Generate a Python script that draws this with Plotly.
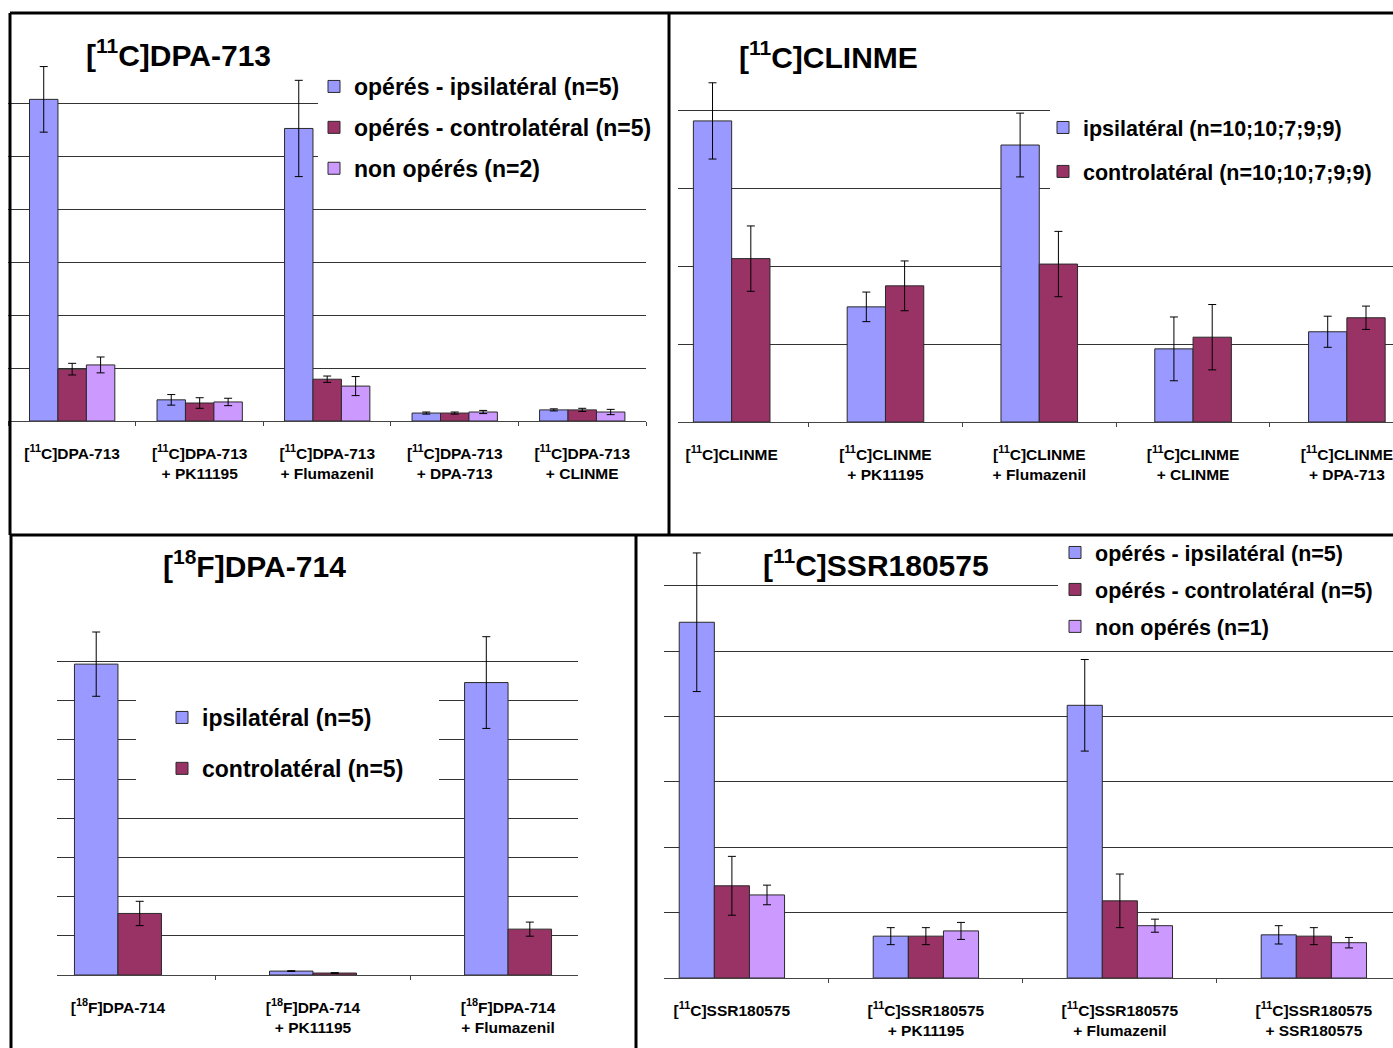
import plotly.graph_objects as go

W, H = 1393, 1048

# ---------------- DATA ----------------
# Panel 1 : [11C]DPA-713
p1_categories = ["[<sup>11</sup>C]DPA-713",
                 "[<sup>11</sup>C]DPA-713<br>+ PK11195",
                 "[<sup>11</sup>C]DPA-713<br>+ Flumazenil",
                 "[<sup>11</sup>C]DPA-713<br>+ DPA-713",
                 "[<sup>11</sup>C]DPA-713<br>+ CLINME"]
p1_series = ["opérés - ipsilatéral (n=5)", "opérés - controlatéral (n=5)", "non opérés (n=2)"]
p1_ipsi = [6.08, 0.40, 5.53, 0.15, 0.21]
p1_ipsi_err = [0.62, 0.10, 0.91, 0.02, 0.02]
p1_contro = [0.98, 0.34, 0.79, 0.15, 0.21]
p1_contro_err = [0.11, 0.10, 0.06, 0.02, 0.03]
p1_non = [1.06, 0.36, 0.66, 0.17, 0.17]
p1_non_err = [0.15, 0.07, 0.18, 0.03, 0.05]

# Panel 2 : [11C]CLINME
p2_categories = ["[<sup>11</sup>C]CLINME",
                 "[<sup>11</sup>C]CLINME<br>+ PK11195",
                 "[<sup>11</sup>C]CLINME<br>+ Flumazenil",
                 "[<sup>11</sup>C]CLINME<br>+ CLINME",
                 "[<sup>11</sup>C]CLINME<br>+ DPA-713"]
p2_series = ["ipsilatéral (n=10;10;7;9;9)", "controlatéral (n=10;10;7;9;9)"]
p2_ipsi = [3.87, 1.48, 3.56, 0.94, 1.16]
p2_ipsi_err = [0.49, 0.19, 0.41, 0.41, 0.20]
p2_contro = [2.10, 1.75, 2.03, 1.09, 1.34]
p2_contro_err = [0.42, 0.32, 0.42, 0.42, 0.15]

# Panel 3 : [18F]DPA-714
p3_categories = ["[<sup>18</sup>F]DPA-714",
                 "[<sup>18</sup>F]DPA-714<br>+ PK11195",
                 "[<sup>18</sup>F]DPA-714<br>+ Flumazenil"]
p3_series = ["ipsilatéral (n=5)", "controlatéral (n=5)"]
p3_ipsi = [7.93, 0.10, 7.46]
p3_ipsi_err = [0.82, 0.01, 1.17]
p3_contro = [1.57, 0.05, 1.17]
p3_contro_err = [0.31, 0.01, 0.18]

# Panel 4 : [11C]SSR180575
p4_categories = ["[<sup>11</sup>C]SSR180575",
                 "[<sup>11</sup>C]SSR180575<br>+ PK11195",
                 "[<sup>11</sup>C]SSR180575<br>+ Flumazenil",
                 "[<sup>11</sup>C]SSR180575<br>+ SSR180575"]
p4_series = ["opérés - ipsilatéral (n=5)", "opérés - controlatéral (n=5)", "non opérés (n=1)"]
p4_ipsi = [5.44, 0.64, 4.17, 0.66]
p4_ipsi_err = [1.06, 0.13, 0.70, 0.14]
p4_contro = [1.41, 0.64, 1.18, 0.64]
p4_contro_err = [0.45, 0.13, 0.41, 0.13]
p4_non = [1.27, 0.72, 0.80, 0.54]
p4_non_err = [0.15, 0.13, 0.10, 0.08]

titles = ["[<sup>11</sup>C]DPA-713", "[<sup>11</sup>C]CLINME",
          "[<sup>18</sup>F]DPA-714", "[<sup>11</sup>C]SSR180575"]

# ---------------- STYLE ----------------
C_IPSI = "#9999FF"
C_CONTRO = "#993366"
C_NON = "#CC99FF"
FONT = "Liberation Sans, Arial, sans-serif"


def px(x):
    return x / W


def py(y):
    return 1 - y / H


fig = go.Figure()


def add_panel(idx, cats, series, vals, errs, colors, width, legend_name):
    n = len(vals)
    ax = "" if idx == 1 else str(idx)
    for i in range(n):
        fig.add_trace(go.Bar(
            x=cats, y=vals[i], name=series[i],
            marker=dict(color=colors[i], line=dict(color="#2a2a2a", width=1)),
            error_y=dict(type="data", array=errs[i], color="black", thickness=1, width=4, visible=True),
            width=width, offset=-n * width / 2 + i * width,
            xaxis="x" + ax, yaxis="y" + ax,
            legend=legend_name, legendgroup=f"g{idx}_{i}",
            showlegend=True,
        ))


add_panel(1, p1_categories, p1_series, [p1_ipsi, p1_contro, p1_non],
          [p1_ipsi_err, p1_contro_err, p1_non_err], [C_IPSI, C_CONTRO, C_NON], 0.223, "legend")
add_panel(2, p2_categories, p2_series, [p2_ipsi, p2_contro],
          [p2_ipsi_err, p2_contro_err], [C_IPSI, C_CONTRO], 0.249, "legend2")
add_panel(3, p3_categories, p3_series, [p3_ipsi, p3_contro],
          [p3_ipsi_err, p3_contro_err], [C_IPSI, C_CONTRO], 0.223, "legend3")
add_panel(4, p4_categories, p4_series, [p4_ipsi, p4_contro, p4_non],
          [p4_ipsi_err, p4_contro_err, p4_non_err], [C_IPSI, C_CONTRO, C_NON], 0.181, "legend4")

# axes geometry (pixels)
panels = [
    # x-left, x-right, y-top, y-bottom, xrange, yrange, ytickvals
    (8.4, 646, 24.25, 421, [-0.5, 4.5], [0, 7.5], list(range(0, 7))),
    (678, 1393, 33, 422, [-0.349, 4.30], [0, 5], list(range(0, 5))),
    (57.3, 577.5, 583, 975, [-0.311, 2.356], [0, 10], list(range(0, 9))),
    (664, 1393, 546.4, 978, [-0.35, 3.408], [0, 6.6], list(range(0, 7))),
]
tickfont = dict(family=FONT, size=15.5, color="black", weight="bold")
for k, (xl, xr, yt, yb, xr_, yr_, tv) in enumerate(panels, start=1):
    ax = "" if k == 1 else str(k)
    fig.update_layout(**{
        "xaxis" + ax: dict(domain=[px(xl), px(xr)], range=xr_, anchor="y" + ax,
                           type="category", showgrid=False, showline=True, linecolor="#444",
                           linewidth=1, ticks="outside", tickson="boundaries", ticklen=4,
                           tickcolor="#444", tickfont=tickfont, ticklabelstandoff=18,
                           zeroline=False, fixedrange=True, automargin=False),
        "yaxis" + ax: dict(domain=[py(yb), py(yt)], range=yr_, anchor="x" + ax,
                           tickvals=tv, showticklabels=False, showgrid=True,
                           gridcolor="#333", gridwidth=1, zeroline=False, showline=False,
                           ticks="", fixedrange=True, automargin=False),
    })


def legfont(size):
    return dict(family=FONT, size=size, color="black", weight="bold")


common_leg = dict(bgcolor="rgba(0,0,0,0)", borderwidth=0,
                  xanchor="left", yanchor="top", traceorder="grouped", itemclick=False)
fig.update_layout(
    legend=dict(x=px(314), y=py(65), tracegroupgap=8, font=legfont(23), **common_leg),
    legend2=dict(x=px(1043), y=py(107), tracegroupgap=13, font=legfont(21.5), **common_leg),
    legend3=dict(x=px(162), y=py(696), tracegroupgap=18, font=legfont(23), **common_leg),
    legend4=dict(x=px(1055), y=py(532), tracegroupgap=6, font=legfont(21.5), **common_leg),
)

shapes = []
# white areas behind the legends (hide gridlines there)
for (x0, x1, y0, y1) in [(318, 648, 68, 192), (1050, 1393, 98, 200),
                         (136, 439, 688, 795), (1058, 1393, 538, 642)]:
    shapes.append(dict(type="rect", xref="paper", yref="paper", x0=px(x0), x1=px(x1),
                       y0=py(y1), y1=py(y0), fillcolor="white", line=dict(width=0), layer="above"))
# panel borders
for (x0, y0, x1, y1) in [(10, 13, 1393, 13), (10, 13, 10, 535), (669, 13, 669, 535),
                         (10, 535, 1393, 535), (11, 535, 11, 1048), (636, 535, 636, 1048)]:
    shapes.append(dict(type="line", xref="paper", yref="paper", x0=px(x0), x1=px(x1),
                       y0=py(y0), y1=py(y1), line=dict(color="black", width=3), layer="above"))
fig.update_layout(shapes=shapes)

title_pos = [(178, 53), (828, 55), (254, 564), (876, 563)]
for t, (tx, ty) in zip(titles, title_pos):
    fig.add_annotation(x=px(tx), y=py(ty), xref="paper", yref="paper", text=t,
                       showarrow=False, xanchor="center", yanchor="middle",
                       font=dict(family=FONT, size=30, color="black", weight="bold"))

fig.update_layout(width=W, height=H, margin=dict(l=0, r=0, t=0, b=0, autoexpand=False),
                  paper_bgcolor="white", plot_bgcolor="rgba(0,0,0,0)",
                  barmode="group", showlegend=True)

fig.write_html("out.html",
               post_script="document.body.style.margin='0';document.body.style.overflow='hidden';",
               config={"displayModeBar": False})
